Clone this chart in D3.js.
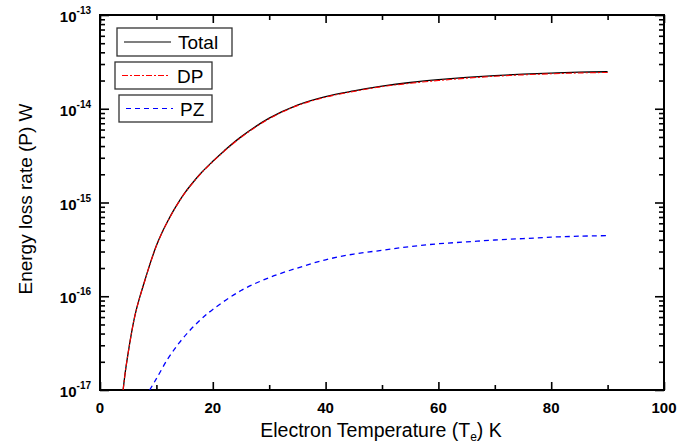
<!DOCTYPE html>
<html><head><meta charset="utf-8">
<script src="https://cdn.jsdelivr.net/npm/d3@7"></script>
<style>body{margin:0;background:#fff}svg{display:block}text{font-family:Arial,"Liberation Sans",sans-serif}</style>
</head><body><svg id="c" width="678" height="446"></svg>
<script>
// Electron temperature (K)
const totalT = [4.1,4.5,5,5.5,6,6.5,7,8,9,10,11,12,13,14,15,16,18,20,22,25,30,35,40,45,50,55,60,65,70,75,80,85,90];
const totalP = [1.0e-17,1.585e-17,2.51e-17,3.80e-17,5.50e-17,7.41e-17,9.55e-17,1.51e-16,2.34e-16,3.47e-16,4.79e-16,6.31e-16,8.13e-16,1.023e-15,1.26e-15,1.51e-15,2.09e-15,2.75e-15,3.55e-15,5.01e-15,7.94e-15,1.096e-14,1.35e-14,1.55e-14,1.74e-14,1.905e-14,2.04e-14,2.16e-14,2.26e-14,2.34e-14,2.40e-14,2.455e-14,2.48e-14];
const dpT = [4.1,4.5,5,5.5,6,6.5,7,8,9,10,11,12,13,14,15,16,18,20,22,25,30,35,40,45,50,55,60,65,70,75,80,85,90];
const dpP = [1.0e-17,1.58e-17,2.5e-17,3.79e-17,5.49e-17,7.39e-17,9.52e-17,1.50e-16,2.33e-16,3.45e-16,4.76e-16,6.27e-16,8.07e-16,1.015e-15,1.25e-15,1.50e-15,2.07e-15,2.72e-15,3.51e-15,4.95e-15,7.84e-15,1.08e-14,1.33e-14,1.53e-14,1.72e-14,1.87e-14,2.00e-14,2.12e-14,2.22e-14,2.30e-14,2.36e-14,2.41e-14,2.44e-14];
const pzT = [8.8,10,12,14,16,18,20,25,30,35,40,45,50,55,60,65,70,75,80,85,90];
const pzP = [1.0e-17,1.32e-17,2.14e-17,3.16e-17,4.37e-17,5.75e-17,7.24e-17,1.15e-16,1.58e-16,2.0e-16,2.45e-16,2.82e-16,3.09e-16,3.39e-16,3.63e-16,3.8e-16,3.98e-16,4.12e-16,4.27e-16,4.37e-16,4.43e-16];
const xMajor = [0,20,40,60,80,100];
const xMinor = [10,30,50,70,90];
const yExp = [-17,-16,-15,-14,-13];
const legendNames = ["Total","DP","PZ"];

const svg = d3.select("#c");
const L=100,R=664,T=15,B=390;
const x = d3.scaleLinear().domain([0,100]).range([L,R]);
const y = d3.scaleLog().domain([1e-17,1e-13]).range([B,T]);

svg.append("clipPath").attr("id","pc").append("rect").attr("x",L).attr("y",T).attr("width",R-L).attr("height",B-T);

const yMajor = yExp.map(e=>Math.pow(10,e));
const yMinor = [];
for(let e=-17;e<-13;e++) for(let k=2;k<=9;k++) yMinor.push(k*Math.pow(10,e));

function noText(g){g.selectAll("text").remove();g.select(".domain").remove();g.selectAll("line").attr("stroke","#000").attr("stroke-width",1.6);}

svg.append("g").attr("transform",`translate(0,${B})`).call(d3.axisBottom(x).tickValues(xMinor).tickSizeInner(-5).tickSizeOuter(0)).call(noText);
svg.append("g").attr("transform",`translate(0,${B})`).call(d3.axisBottom(x).tickValues(xMajor).tickSizeInner(-8).tickSizeOuter(0)).call(noText);
svg.append("g").attr("transform",`translate(0,${T})`).call(d3.axisTop(x).tickValues(xMinor).tickSizeInner(-5).tickSizeOuter(0)).call(noText);
svg.append("g").attr("transform",`translate(0,${T})`).call(d3.axisTop(x).tickValues(xMajor).tickSizeInner(-8).tickSizeOuter(0)).call(noText);
svg.append("g").attr("transform",`translate(${L},0)`).call(d3.axisLeft(y).tickValues(yMinor).tickSizeInner(-5).tickSizeOuter(0)).call(noText);
svg.append("g").attr("transform",`translate(${L},0)`).call(d3.axisLeft(y).tickValues(yMajor).tickSizeInner(-9).tickSizeOuter(0)).call(noText);
svg.append("g").attr("transform",`translate(${R},0)`).call(d3.axisRight(y).tickValues(yMinor).tickSizeInner(-5).tickSizeOuter(0)).call(noText);
svg.append("g").attr("transform",`translate(${R},0)`).call(d3.axisRight(y).tickValues(yMajor).tickSizeInner(-9).tickSizeOuter(0)).call(noText);

svg.append("rect").attr("x",L).attr("y",T).attr("width",R-L).attr("height",B-T).attr("fill","none").attr("stroke","#000").attr("stroke-width",2);

svg.append("g").selectAll("text").data(xMajor).join("text")
  .attr("x",d=>x(d)).attr("y",B+23).attr("text-anchor","middle")
  .attr("font-size",15).attr("font-weight","bold").text(d=>d);
const yl = svg.append("g").selectAll("text").data(yMajor).join("text")
  .attr("x",L-9).attr("y",d=>y(d)+7).attr("text-anchor","end").attr("font-weight","bold");
yl.append("tspan").attr("font-size",15).text("10");
yl.append("tspan").attr("font-size",10).attr("dy",-8).text(d=>String(Math.round(Math.log10(d))));

const xt = svg.append("text").attr("x",381).attr("y",437).attr("text-anchor","middle").attr("font-size",19.5);
xt.append("tspan").text("Electron Temperature (T");
xt.append("tspan").attr("font-size",12).attr("dy",4).text("e");
xt.append("tspan").attr("dy",-4).text(") K");
svg.append("text").attr("transform","translate(32,199) rotate(-90)").attr("text-anchor","middle").attr("font-size",19).text("Energy loss rate (P) W");

const line = d3.line().x(d=>x(d[0])).y(d=>y(d[1])).curve(d3.curveCatmullRom.alpha(0.5));
const pg = svg.append("g").attr("clip-path","url(#pc)");
pg.append("path").datum(pzT.map((t,i)=>[t,pzP[i]])).attr("d",line).attr("fill","none").attr("stroke","#0000ff").attr("stroke-width",1.3).attr("stroke-dasharray","5,4");
pg.append("path").datum(totalT.map((t,i)=>[t,totalP[i]])).attr("d",line).attr("fill","none").attr("stroke","#000").attr("stroke-width",1.3);
pg.append("path").datum(dpT.map((t,i)=>[t,dpP[i]])).attr("d",line).attr("fill","none").attr("stroke","#ff0000").attr("stroke-width",1.1).attr("stroke-dasharray","6,2,2,2");

const leg = [
  {name:legendNames[0], bx:117, by:28, bw:115, bh:28, lx1:124, lx2:171, tx:178, color:"#000", dash:null},
  {name:legendNames[1], bx:115, by:62, bw:97, bh:27, lx1:122, lx2:170, tx:177, color:"#ff0000", dash:"6,2,2,2"},
  {name:legendNames[2], bx:119, by:95, bw:93, bh:27, lx1:126, lx2:173, tx:180, color:"#0000ff", dash:"5,4"}
];
leg.forEach(l=>{
  svg.append("rect").attr("x",l.bx).attr("y",l.by).attr("width",l.bw).attr("height",l.bh).attr("fill","#fff").attr("stroke","#333").attr("stroke-width",1.3);
  svg.append("line").attr("x1",l.lx1).attr("x2",l.lx2).attr("y1",l.by+l.bh/2).attr("y2",l.by+l.bh/2).attr("stroke",l.color).attr("stroke-width",1.2).attr("stroke-dasharray",l.dash);
  svg.append("text").attr("x",l.tx).attr("y",l.by+l.bh/2+7).attr("font-size",19).text(l.name);
});
</script></body></html>
